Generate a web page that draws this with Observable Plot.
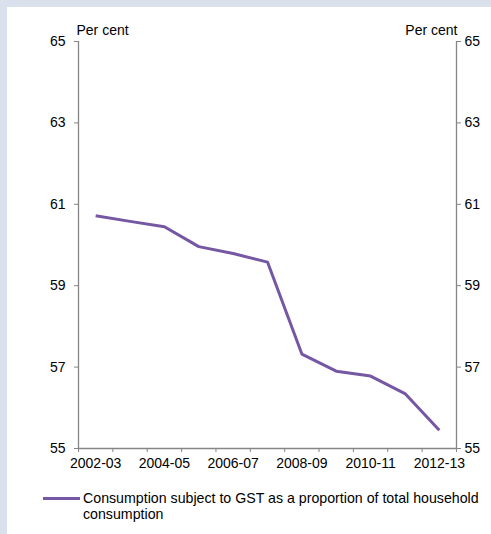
<!DOCTYPE html>
<html>
<head>
<meta charset="utf-8">
<script src="https://cdn.jsdelivr.net/npm/d3@7"></script>
<script src="https://cdn.jsdelivr.net/npm/@observablehq/plot@0.6"></script>
<style>
  html, body { margin: 0; padding: 0; }
  body { width: 491px; height: 534px; background: #dbe1ec; position: relative; overflow: hidden;
         font-family: "Liberation Sans", Arial, sans-serif; }
  #panel { position: absolute; left: 7px; top: 7px; width: 484px; height: 527px; background: #fff; }
  #chart { position: absolute; left: 0; top: 0; }
  #legend { position: absolute; left: 36px; top: 483px; width: 446px; font-size: 14.2px; line-height: 16px; color: #000; }
  #legend .swatch { position: absolute; left: 0; top: 7px; width: 37px; height: 3px; background: #7557a3; }
  #legend .label { position: absolute; left: 40px; top: 0; white-space: nowrap; }
</style>
</head>
<body>
<div id="panel">
  <div id="chart"></div>
  <div id="legend"><div class="swatch"></div><div class="label">Consumption subject to GST as a proportion of total household<br>consumption</div></div>
</div>
<script>
// Financial years on the horizontal axis
const categories = ["2002-03", "2003-04", "2004-05", "2005-06", "2006-07", "2007-08",
                    "2008-09", "2009-10", "2010-11", "2011-12", "2012-13"];
// Consumption subject to GST, per cent of total household consumption
const values = [60.72, 60.58, 60.45, 59.96, 59.79, 59.58, 57.32, 56.90, 56.78, 56.35, 55.45];
// Vertical axis ticks (per cent)
const yTicks = [55, 57, 59, 61, 63, 65];
// Every second year is labelled
const labelledIdx = categories.map((d, i) => i).filter(i => i % 2 === 0);

const axisGrey = "#868686";
const lineColour = "#7557a3";
const n = categories.length;
const boundaries = d3.range(n + 1).map(i => i - 0.5);

const chart = Plot.plot({
  width: 484,
  height: 470,
  marginLeft: 71,
  marginRight: 35,
  marginTop: 34,
  marginBottom: 29,
  style: { fontFamily: "'Liberation Sans', Arial, sans-serif", fontSize: "14px", color: "#000", background: "transparent", overflow: "visible" },
  x: { type: "linear", domain: [-0.5, n - 0.5] },
  y: { domain: [55, 65] },
  marks: [
    // axis lines
    Plot.ruleX([-0.5, n - 0.5], { stroke: axisGrey, strokeWidth: 1.3 }),
    Plot.ruleY([55], { stroke: axisGrey, strokeWidth: 1.3 }),
    // left and right value axes
    Plot.axisY({ anchor: "left", ticks: yTicks, tickSize: 4, tickPadding: 9, label: null, stroke: axisGrey, fill: "#000" }),
    Plot.axisY({ anchor: "right", ticks: yTicks, tickSize: 4, tickPadding: 4, label: null, stroke: axisGrey, fill: "#000" }),
    // year boundary ticks
    Plot.axisX({ ticks: boundaries, tickSize: 4, tickFormat: () => "", label: null, stroke: axisGrey }),
    // year labels
    Plot.axisX({ ticks: labelledIdx, tickSize: 0, tickPadding: 10, tickFormat: i => categories[i], label: null, fill: "#000" }),
    // unit labels
    Plot.text(["Per cent"], { frameAnchor: "top-left", textAnchor: "start", lineAnchor: "middle", dx: -2, dy: -11, fill: "#000" }),
    Plot.text(["Per cent"], { frameAnchor: "top-right", textAnchor: "end", lineAnchor: "middle", dx: 1, dy: -11, fill: "#000" }),
    // series
    Plot.line(values, { x: (d, i) => i, y: d => d, stroke: lineColour, strokeWidth: 3, strokeLinejoin: "round", strokeLinecap: "butt" })
  ]
});
document.getElementById("chart").appendChild(chart);
</script>
</body>
</html>
